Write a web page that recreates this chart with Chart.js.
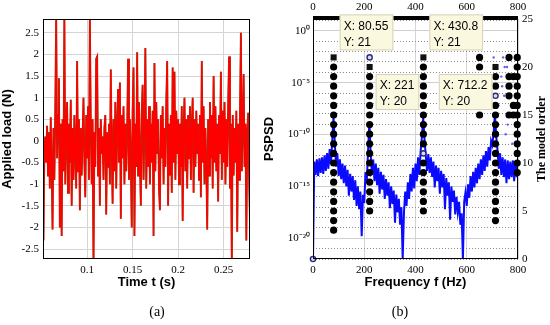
<!DOCTYPE html>
<html>
<head>
<meta charset="utf-8">
<script src="https://cdn.jsdelivr.net/npm/chart.js@4.4.1/dist/chart.umd.min.js"></script>
<style>
    html, body { margin: 0; padding: 0; background: #fff; }
    #wrap { position: relative; width: 550px; height: 325px; overflow: hidden; }
    .box { position: absolute; top: 0; height: 325px; }
    #left { left: 0; width: 262px; }
    #right { left: 262px; width: 288px; }
    .cap { position: absolute; top: 304px; font: 14px "Liberation Serif", serif; transform: translateX(-50%); }
</style>
</head>
<body>
<div id="wrap">
    <div class="box" id="left"><canvas id="loadChart"></canvas></div>
    <div class="box" id="right"><canvas id="psdChart"></canvas></div>
    <div class="cap" style="left:157px">(a)</div>
    <div class="cap" style="left:400px">(b)</div>
</div>
<script>
Chart.defaults.font.family = "'Liberation Serif', 'Times New Roman', serif";
Chart.defaults.font.size = 11;
Chart.defaults.color = "#000";
Chart.defaults.animation = false;

const titleFont = { family: "'Liberation Sans', Arial, sans-serif", size: 13, weight: "bold" };

// (a) applied load, sampled every 1 ms from t = 0.052 s
const loadT0 = 0.052;
const loadDt = 0.001;
const load = [
    -2.3, -0.2, 0.1, -0.5, 0.35, -0.8, 0.2, -1.1, 0.55, -0.6,
    -2.05, 0.3, -0.9, 0.7, 2.9, -0.4, 0.6, 1.45, -2.0, 0.4,
    -2.2, 0.5, -0.7, 2.9, -1.0, 0.2, 0.9, -1.2, 0.4, -0.5,
    0.95, -1.5, 0.3, -0.9, 0.6, -0.3, -1.1, 1.85, -0.7, 0.5,
    -1.6, 0.3, -0.8, 0.1, 1.0, -0.5, -1.3, 0.6, -0.4, 0.8,
    -0.9, 2.9, 0.4, -1.0, 0.5, -2.9, 0.2, -0.6, 1.9, 1.95,
    -0.8, 0.3, -1.5, 0.5, -0.3, 0.1, -0.9, 0.3, 0.6, -1.7,
    0.2, -0.6, 0.4, -1.0, 1.65, -0.2, -1.45, 0.5, -0.7, 0.9,
    -1.1, 0.3, 1.2, -0.5, 1.35, -1.8, 0.6, -0.4, 0.8, -1.0,
    0.4, -0.7, 0.2, 1.9, -0.9, 0.5, -0.3, -2.0, 0.7, 1.7,
    -2.2, 0.4, -0.6, 2.05, -0.8, 0.9, -0.4, -1.5, 0.6, 1.3,
    -0.9, 0.3, 2.15, -1.1, 0.5, -0.6, 0.8, -1.0, 0.4, -0.5,
    0.7, -2.2, 1.8, -0.7, 0.9, -0.3, 0.5, -1.1, -1.6, 0.6,
    -0.4, 0.8, -1.0, 0.3, -0.6, 0.9, 1.85, -1.5, 0.4, -0.8,
    0.6, -1.2, 1.7, -0.5, 1.6, -0.9, 0.7, -0.3, 0.5, -1.0,
    0.4, -0.6, 0.8, -1.85, 0.3, 1.0, -0.7, 0.5, -1.1, 0.6,
    -0.4, 0.8, -0.9, 0.3, 1.0, -1.2, 0.5, -0.6, 0.7, -0.3,
    0.4, -0.9, 0.6, -1.3, 1.85, -0.5, 0.8, -1.0, 0.3, -0.6,
    -2.05, 0.5, -0.8, 0.9, -0.4, 0.6, -1.1, 1.5, -0.5, 0.8,
    -0.7, 0.4, -1.4, 0.6, -0.3, 1.6, -0.9, 0.7, -0.5, 0.9,
    -1.0, 0.5, -0.6, 0.8, 1.95, -1.1, 0.4, -2.9, 0.6, -0.8,
    0.3, -0.5, 0.7, -2.1, 0.4, -0.9, 0.6, 2.5, -0.7, 0.3,
    1.55, -0.6, 0.4, -2.3, 0.2, 0.65, -0.8, -1.9,
];
const timeTicks = [0.1, 0.15, 0.2, 0.25];
const loadTicks = [-2.5, -2, -1.5, -1, -0.5, 0, 0.5, 1, 1.5, 2, 2.5];

// (b) PSPSD, one value every 5 Hz from 0 Hz
const psdStep = 5;
const psd = [
    1e-22, 2.5e-13, 1.3e-14, 4e-13, 1e-14, 5e-13, 2e-14, 6.3e-13, 1.6e-14, 1e-12,
    3.2e-14, 1.6e-12, 5e-14, 4e-12, 1.3e-13, 2.5e-11, 5e-9, 1.6e-11, 8e-14, 1.6e-12,
    1e-14, 4e-13, 5e-15, 1.6e-13, 2e-15, 1e-13, 1e-15, 4e-14, 1.3e-16, 1.6e-14,
    3.2e-16, 1e-14, 5e-17, 4e-15, 1.3e-17, 1e-15, 6.3e-18, 3.2e-16, 1.6e-20, 1.6e-16,
    2.5e-17, 2.5e-14, 3.2e-15, 3.2e-12, 1.6e-9, 1.6e-12, 1.3e-14, 4e-13, 3.2e-15, 1.6e-13,
    1.3e-15, 6.3e-14, 2e-16, 2.5e-14, 5e-16, 1.3e-14, 6.3e-17, 5e-15, 1.3e-16, 2.5e-15,
    8e-18, 1e-15, 2e-17, 4e-16, 3.2e-19, 1.6e-16, 3.2e-18, 6.3e-17, 2e-19, 1e-17,
    1e-22, 3.2e-18, 3.2e-16, 1.3e-17, 2.5e-15, 6.3e-17, 1.6e-14, 3.2e-16, 6.3e-14, 6.3e-16,
    1.6e-13, 3.2e-15, 6.3e-13, 1.3e-14, 2.5e-12, 6.3e-11, 4e-9, 4e-11, 1e-12, 3.2e-14,
    1.3e-12, 2e-14, 6.3e-13, 8e-15, 2.5e-13, 8e-16, 1e-13, 3.2e-15, 6.3e-14, 2e-16,
    3.2e-14, 8e-16, 1.6e-14, 6.3e-18, 6.3e-15, 1.3e-16, 2.5e-15, 6.3e-19, 1e-15, 3.2e-17,
    4e-16, 2e-18, 1e-16, 3.2e-18, 3.2e-17, 2e-19, 2.5e-18, 1e-22, 3.2e-17, 2.5e-16,
    1.3e-17, 1.6e-15, 8e-17, 1e-14, 3.2e-16, 2.5e-14, 8e-16, 6.3e-14, 2e-15, 1.6e-13,
    5e-15, 4e-13, 1.3e-14, 1e-12, 3.2e-14, 2.5e-12, 8e-14, 6.3e-12, 3.2e-13, 2.5e-11,
    1e-11, 1.6e-10, 1e-8, 6.3e-11, 3.2e-12, 5e-14, 1.6e-12, 1.3e-14, 6.3e-13, 8e-15,
    4e-13, 2e-15, 3.2e-13, 5e-15, 2.5e-13, 8e-15, 3.2e-13, 3.2e-15, 2.5e-13, 8e-15,
    1.6e-13,
];
const freqTicks = [0, 200, 400, 600, 800];
const psdTicks = [1, 1e-5, 1e-10, 1e-15, 1e-20];
const psdTickLabels = ["10\u2070", "10\u207B\u2075", "10\u207B\u00B9\u2070", "10\u207B\u00B9\u2075", "10\u207B\u00B2\u2070"];
const orderTicks = [0, 5, 10, 15, 20, 25];

// stabilisation diagram
const stableFreq = [80.55, 221, 430.8, 712.2, 650, 765, 782, 797];
const stableOrders = [
    [3, 4, 5, 6, 7, 8, 9, 10, 11, 12, 13, 14, 15, 16, 17, 18, 19, 20],
    [5, 6, 7, 8, 9, 10, 11, 12, 13, 14, 15, 16, 17, 18, 19],
    [5, 6, 7, 8, 9, 10, 12, 13, 14, 15, 16, 17, 18, 19, 20],
    [4, 5, 6, 7, 8, 9, 10, 11, 12, 13, 14, 15, 16, 18, 19],
    [15, 20, 21],
    [15, 17, 18, 19, 21],
    [15, 16, 19],
    [9, 10, 11, 12, 13, 14, 15, 16, 17, 18, 19, 20, 21],
];
const pickFreq = [80.55, 221, 430.8, 712.2];
const pickOrder = [21, 20, 21, 20];
const ringFreq = [0, 221, 430.8, 712.2];
const ringOrder = [0, 21, 11, 17];
const looseFreq = [705, 742, 748, 757, 700, 722, 738, 746, 724, 760, 790, 778, 752, 735];
const looseOrder = [21, 21, 20, 20, 19, 19, 18, 17, 16, 14, 11, 12, 13, 19];
const tipSide = ["ur", "dr", "ur", "dl"];

const pts = (xs, ys) => xs.map((x, i) => ({ x, y: ys[i] }));
const fixTicks = (vals) => (axis) => { axis.ticks = vals.map((v) => ({ value: v })); };

function frame(chart) {
    const { ctx, chartArea: a } = chart;
    ctx.save();
    ctx.strokeStyle = "#000";
    ctx.lineWidth = 1;
    ctx.strokeRect(a.left + 0.5, a.top + 0.5, a.right - a.left - 1, a.bottom - a.top - 1);
    ctx.restore();
}

// Left: time history
const loadPts = load.map((v, i) => ({ x: loadT0 + i * loadDt, y: v }));

new Chart(document.getElementById("loadChart"), {
    type: "line",
    data: {
        datasets: [
            {
                data: loadPts,
                borderColor: "#ff0000",
                borderWidth: 1.4,
                pointRadius: 0,
                order: 1,
            },
            {
                data: loadPts,
                borderColor: "#7d4a14",
                borderWidth: 1.9,
                pointRadius: 0,
                order: 2,
            },
        ],
    },
    options: {
        responsive: true,
        maintainAspectRatio: false,
        layout: { padding: { top: 19, right: 12, bottom: 35, left: 0 } },
        plugins: { legend: { display: false }, tooltip: { enabled: false } },
        scales: {
            x: {
                type: "linear",
                min: 0.0515,
                max: 0.279,
                afterBuildTicks: fixTicks(timeTicks),
                afterFit: (s) => { s.height = 31; },
                grid: { color: "#d4d4d4", drawTicks: false },
                border: { display: false },
                ticks: { padding: 5, autoSkip: false, maxRotation: 0, callback: (v) => String(v) },
                title: { display: true, text: "Time t (s)", font: titleFont, padding: 0 },
            },
            y: {
                min: -2.73,
                max: 2.82,
                afterBuildTicks: fixTicks(loadTicks),
                afterFit: (s) => { s.width = 43; },
                grid: { color: "#d4d4d4", drawTicks: false },
                border: { display: false },
                ticks: { padding: 4, autoSkip: false, callback: (v) => String(v) },
                title: { display: true, text: "Applied load (N)", font: titleFont, padding: 0 },
            },
        },
    },
    plugins: [{ id: "frameA", afterDatasetsDraw: frame }],
});

// Right: PSPSD and stabilisation diagram
const stablePts = [];
stableFreq.forEach((f, i) => stableOrders[i].forEach((o) => stablePts.push({ x: f, y: o })));

const isMajor = (c) => !c.tick || Math.round(Math.log10(c.tick.value)) % 5 === 0;

new Chart(document.getElementById("psdChart"), {
    type: "scatter",
    data: {
        datasets: [
            {
                data: pts(pickFreq, pickOrder),
                yAxisID: "yo",
                pointStyle: "rect",
                pointRadius: 4.3,
                backgroundColor: "#111",
                borderWidth: 0,
                clip: false,
                order: 1,
            },
            {
                data: stablePts,
                yAxisID: "yo",
                pointRadius: 3.6,
                backgroundColor: "#000",
                borderWidth: 0,
                clip: false,
                order: 2,
            },
            {
                data: pts(ringFreq, ringOrder),
                yAxisID: "yo",
                pointRadius: 2.6,
                backgroundColor: "#d8d8f0",
                borderColor: "#2a2a7a",
                borderWidth: 1.4,
                clip: false,
                order: 3,
            },
            {
                data: pts(looseFreq, looseOrder),
                yAxisID: "yo",
                pointRadius: 1.2,
                backgroundColor: "#6a5cf0",
                borderWidth: 0,
                order: 4,
            },
            {
                type: "line",
                data: psd.map((v, i) => ({ x: i * psdStep, y: v })),
                yAxisID: "y",
                borderColor: "#0a0aff",
                borderWidth: 2,
                pointRadius: 0,
                order: 5,
            },
        ],
    },
    options: {
        responsive: true,
        maintainAspectRatio: false,
        layout: { padding: { top: 0, right: 0, bottom: 35, left: 0 } },
        plugins: { legend: { display: false }, tooltip: { enabled: false } },
        scales: {
            x: {
                type: "linear",
                position: "bottom",
                min: 0,
                max: 800,
                afterBuildTicks: fixTicks(freqTicks),
                afterFit: (s) => { s.height = 31; },
                grid: { color: "#d4d4d4", drawTicks: false },
                border: { display: false },
                ticks: { padding: 5, autoSkip: false, maxRotation: 0 },
                title: { display: true, text: "Frequency f (Hz)", font: titleFont, padding: 0 },
            },
            x2: {
                type: "linear",
                position: "top",
                min: 0,
                max: 800,
                afterBuildTicks: fixTicks(freqTicks),
                afterFit: (s) => { s.height = 19; },
                grid: { drawOnChartArea: false, drawTicks: false },
                border: { display: false },
                ticks: { padding: 5, autoSkip: false, maxRotation: 0 },
            },
            y: {
                type: "logarithmic",
                position: "left",
                min: 1e-22,
                max: 14,
                afterBuildTicks: (axis) => {
                    const t = [];
                    for (let e = -22; e <= 1; e++) t.push({ value: Number("1e" + e) });
                    axis.ticks = t;
                },
                afterFit: (s) => { s.width = 51; },
                grid: {
                    color: (c) => (isMajor(c) ? "#cfcfcf" : "#8c8c8c"),
                    drawTicks: false,
                },
                border: { display: false, dash: (c) => (isMajor(c) ? [] : [1, 2]) },
                ticks: {
                    padding: 3,
                    autoSkip: false,
                    callback: (v) => {
                        const k = psdTicks.indexOf(v);
                        return k >= 0 ? psdTickLabels[k] : "";
                    },
                },
                title: { display: true, text: "PSPSD", font: titleFont, padding: 0 },
            },
            yo: {
                position: "right",
                min: 0,
                max: 25,
                afterBuildTicks: fixTicks(orderTicks),
                afterFit: (s) => { s.width = 32; },
                grid: { drawOnChartArea: false, drawTicks: false },
                border: { display: false },
                ticks: { padding: 4, autoSkip: false },
            },
        },
    },
    plugins: [{
        id: "frameB",
        afterDatasetsDraw(chart) {
            const { ctx, chartArea: a, scales } = chart;
            frame(chart);
            ctx.save();
            // heavy top axis
            ctx.fillStyle = "#000";
            ctx.fillRect(a.left, a.top - 3, a.right - a.left, 4);

            // data tips
            ctx.font = "12px 'Liberation Sans', Arial, sans-serif";
            ctx.textBaseline = "middle";
            pickFreq.forEach((f, i) => {
                const px = scales.x.getPixelForValue(f);
                const py = scales.yo.getPixelForValue(pickOrder[i]);
                const l1 = "X: " + f;
                const l2 = "Y: " + pickOrder[i];
                const w = Math.max(ctx.measureText(l1).width, ctx.measureText(l2).width) + 9;
                const h = 36;
                const side = tipSide[i];
                const bx = side[1] === "r" ? px + 6 : px - 3 - w;
                const by = side[0] === "u" ? py - 7 - h : py + 7;
                ctx.fillStyle = "#fbf8e0";
                ctx.fillRect(bx, by, w, h);
                ctx.strokeStyle = "#d6d2b8";
                ctx.lineWidth = 1;
                ctx.strokeRect(bx + 0.5, by + 0.5, w - 1, h - 1);
                ctx.fillStyle = "#000";
                ctx.fillText(l1, bx + 4, by + 12);
                ctx.fillText(l2, bx + 4, by + 28);
            });

            // right axis title, reading upwards
            ctx.translate(chart.width - 8, (a.top + a.bottom) / 2);
            ctx.rotate(-Math.PI / 2);
            ctx.font = "bold 12px 'Liberation Serif', serif";
            ctx.textAlign = "center";
            ctx.fillText("The model order", 0, 0);
            ctx.restore();
        },
    }],
});
</script>
</body>
</html>
